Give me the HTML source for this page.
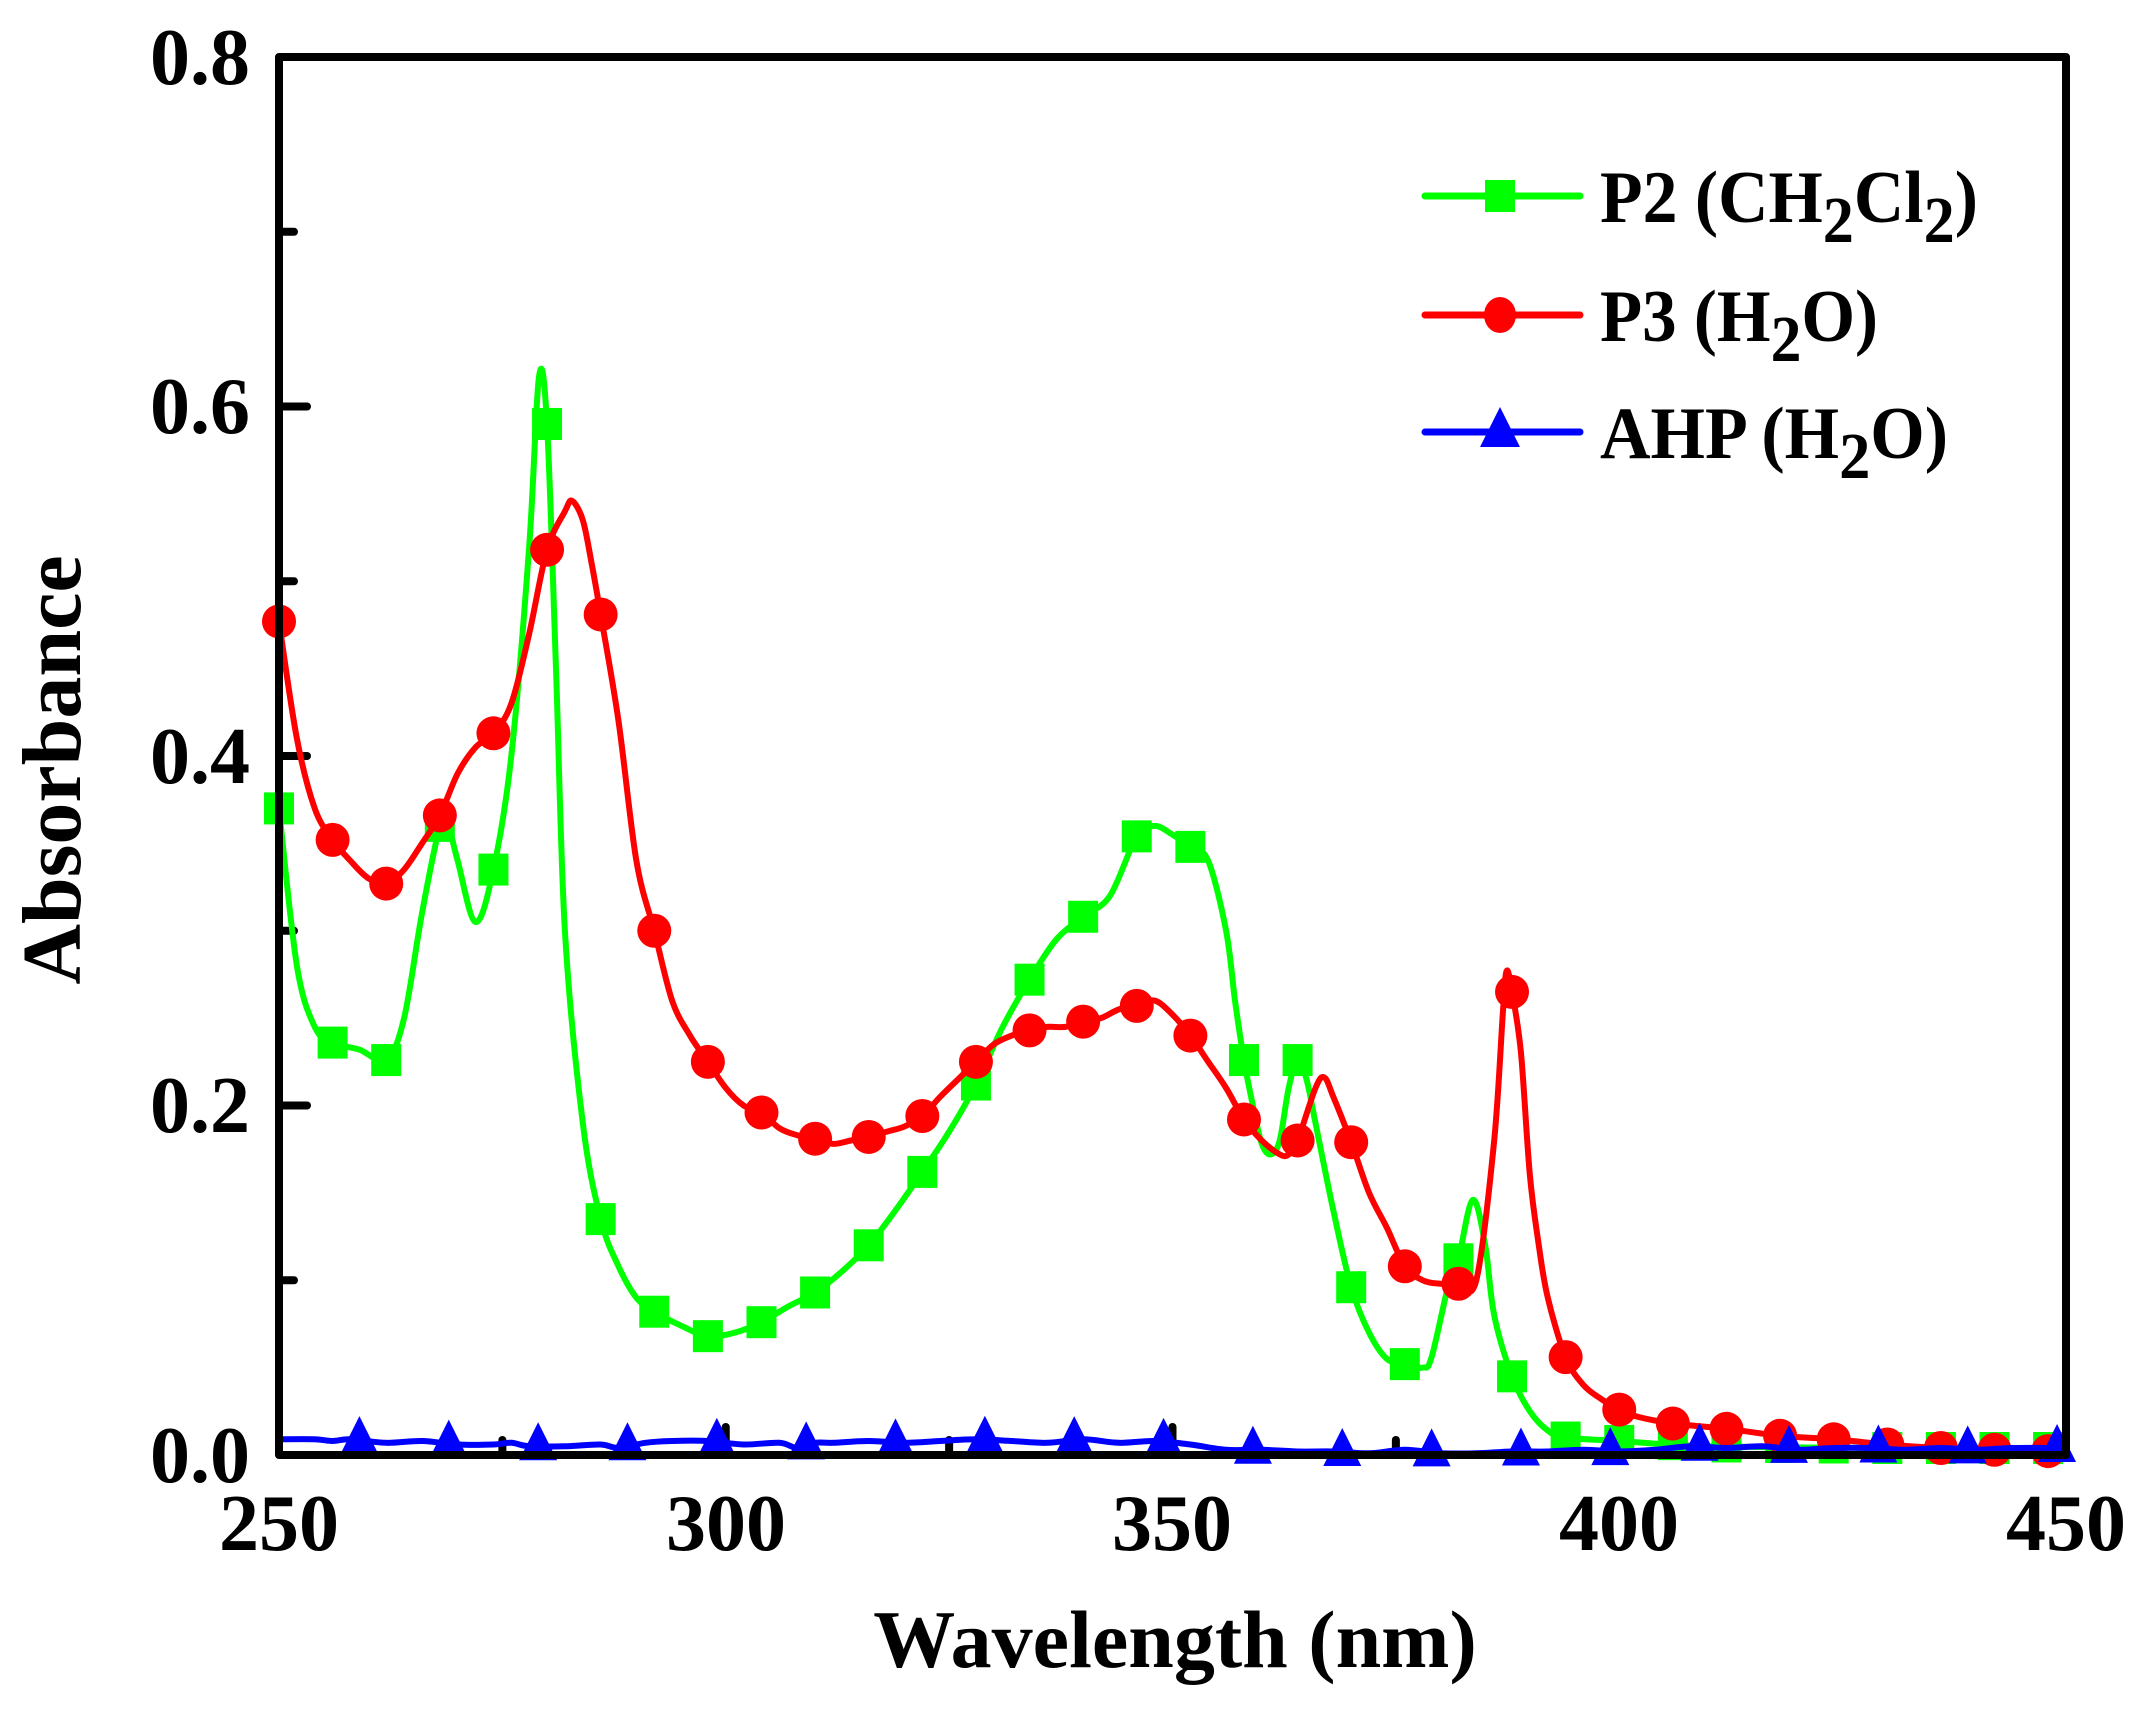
<!DOCTYPE html>
<html><head><meta charset="utf-8"><style>
html,body{margin:0;padding:0;background:#fff;}
svg{display:block;}
text{font-family:"Liberation Serif","Times New Roman",serif;font-weight:bold;fill:#000;}
</style></head><body>
<svg id="s" width="2155" height="1709" viewBox="0 0 2155 1709" xmlns="http://www.w3.org/2000/svg">
<rect width="2155" height="1709" fill="#fff"/>
<g id="ticks" stroke="#000" stroke-width="8" stroke-linecap="round"></g>
<g id="series"></g>
<rect x="279" y="57" width="1787" height="1398" fill="none" stroke="#000" stroke-width="8" stroke-linejoin="round"/>
<g font-size="80">
<text x="250" y="84" text-anchor="end">0.8</text>
<text x="250" y="433" text-anchor="end">0.6</text>
<text x="250" y="783" text-anchor="end">0.4</text>
<text x="250" y="1132" text-anchor="end">0.2</text>
<text x="250" y="1482" text-anchor="end">0.0</text>
<text x="279" y="1550" text-anchor="middle">250</text>
<text x="726" y="1550" text-anchor="middle">300</text>
<text x="1172" y="1550" text-anchor="middle">350</text>
<text x="1619" y="1550" text-anchor="middle">400</text>
<text x="2066" y="1550" text-anchor="middle">450</text>
</g>
<text x="1175" y="1667" font-size="82" text-anchor="middle">Wavelength (nm)</text>
<text transform="translate(80,770) rotate(-90)" font-size="84" text-anchor="middle">Absorbance</text>
<g id="legend">
<line x1="1425" y1="196" x2="1580" y2="196" stroke="#00ff00" stroke-width="7" stroke-linecap="round"/>
<rect x="1485" y="180" width="30" height="32" fill="#00ff00"/>
<line x1="1425" y1="315" x2="1580" y2="315" stroke="#ff0000" stroke-width="7" stroke-linecap="round"/>
<ellipse cx="1500" cy="315" rx="16" ry="18" fill="#ff0000"/>
<line x1="1425" y1="432" x2="1580" y2="432" stroke="#0000ff" stroke-width="7" stroke-linecap="round"/>
<polygon points="1500,407 1520,447 1480,447" fill="#0000ff"/>
<text x="1600" y="222" font-size="74" textLength="378" lengthAdjust="spacingAndGlyphs">P2 (CH<tspan font-size="66" dy="20">2</tspan><tspan dy="-20">Cl</tspan><tspan font-size="66" dy="20">2</tspan><tspan dy="-20">)</tspan></text>
<text x="1600" y="341" font-size="74" textLength="278" lengthAdjust="spacingAndGlyphs">P3 (H<tspan font-size="66" dy="20">2</tspan><tspan dy="-20">O)</tspan></text>
<text x="1600" y="458" font-size="74" textLength="348" lengthAdjust="spacingAndGlyphs">AHP (H<tspan font-size="66" dy="20">2</tspan><tspan dy="-20">O)</tspan></text>
</g>
</svg>
<script>
var L=279,R=2066,T=57,B=1455;
function X(n){return L+(n-250)*(R-L)/200;}
function Y(a){return B-a*(B-T)/0.8;}
var NS="http://www.w3.org/2000/svg";
var tk=document.getElementById('ticks');
function ln(x1,y1,x2,y2){var e=document.createElementNS(NS,'line');e.setAttribute('x1',x1);e.setAttribute('y1',y1);e.setAttribute('x2',x2);e.setAttribute('y2',y2);tk.appendChild(e);}
for(var i=1;i<8;i++){var y=Y(i*0.1);ln(L,y,L+(i%2==0?28:15),y);}
for(var n=275;n<450;n+=25){var x=X(n);ln(x,B,x,B-((n%50==0)?28:15));}
function interp(pts,x){for(var i=0;i<pts.length-1;i++){if(x>=pts[i][0]&&x<=pts[i+1][0]){var t=(x-pts[i][0])/(pts[i+1][0]-pts[i][0]);return pts[i][1]+t*(pts[i+1][1]-pts[i][1]);}}return pts[pts.length-1][1];}
function pathOf(pts){var p=pts.map(function(q){return [X(q[0]),Y(q[1])];});var d="M"+p[0][0].toFixed(1)+","+p[0][1].toFixed(1);
for(var i=0;i<p.length-1;i++){var p0=p[i-1]||p[i],p1=p[i],p2=p[i+1],p3=p[i+2]||p2;
var c1=[p1[0]+(p2[0]-p0[0])/6,p1[1]+(p2[1]-p0[1])/6],c2=[p2[0]-(p3[0]-p1[0])/6,p2[1]-(p3[1]-p1[1])/6];
d+="C"+c1[0].toFixed(1)+","+c1[1].toFixed(1)+" "+c2[0].toFixed(1)+","+c2[1].toFixed(1)+" "+p2[0].toFixed(1)+","+p2[1].toFixed(1);}return d;}
var green=[[250,0.37],[252,0.28],[254,0.245],[256,0.236],[259,0.232],[262,0.226],[264,0.25],[266,0.31],[268,0.36],[268.7,0.365],[270,0.34],[272,0.305],[274,0.335],[276,0.40],[278,0.52],[279.1,0.617],[280,0.59],[281,0.45],[282,0.30],[284,0.19],[286,0.135],[288,0.108],[290,0.09],[292,0.082],[295,0.074],[298,0.068],[301,0.07],[304,0.076],[307,0.085],[310,0.093],[313,0.105],[316,0.12],[319,0.14],[322,0.162],[325,0.185],[328,0.212],[331,0.245],[334,0.272],[337,0.295],[340,0.308],[343,0.32],[346,0.354],[348,0.36],[350,0.355],[352,0.348],[354,0.34],[356,0.3],[357,0.26],[358,0.226],[359,0.2],[360,0.178],[361,0.172],[362,0.18],[363,0.21],[364,0.226],[365,0.215],[366,0.19],[368,0.14],[370,0.096],[372,0.07],[374,0.055],[376,0.052],[378,0.05],[379,0.056],[381,0.10],[382,0.112],[383.6,0.146],[385,0.12],[386,0.08],[388,0.045],[390,0.025],[392,0.014],[394,0.01],[400,0.008],[410,0.005],[430,0.004],[450,0.004]];
var red=[[250,0.477],[252,0.41],[254,0.37],[256,0.352],[258,0.34],[260,0.33],[262,0.327],[264,0.335],[266,0.35],[268,0.366],[270,0.39],[272,0.405],[274,0.413],[276,0.43],[278,0.47],[280,0.518],[282,0.54],[282.8,0.546],[284,0.535],[285,0.51],[286,0.481],[288,0.42],[290,0.34],[292,0.3],[294,0.26],[296,0.24],[298,0.225],[300,0.21],[302,0.2],[304,0.196],[306,0.187],[308,0.183],[310,0.181],[312,0.178],[314,0.18],[316,0.182],[318,0.185],[320,0.188],[322,0.194],[324,0.205],[326,0.215],[328,0.225],[330,0.235],[332,0.24],[334,0.243],[336,0.245],[338,0.245],[340,0.248],[342,0.25],[344,0.255],[346,0.257],[348,0.26],[350,0.252],[352,0.24],[354,0.225],[356,0.21],[358,0.192],[360,0.18],[362,0.172],[363,0.172],[364,0.18],[366,0.21],[367,0.216],[368,0.205],[370,0.179],[372,0.15],[374,0.13],[376,0.108],[378,0.1],[380,0.098],[382,0.098],[384,0.1],[386,0.18],[387,0.255],[387.4,0.277],[388,0.265],[389,0.23],[390,0.16],[391,0.12],[392,0.09],[394,0.056],[396,0.04],[398,0.032],[400,0.026],[402,0.022],[406,0.018],[412,0.015],[418,0.011],[424,0.009],[430,0.006],[436,0.004],[442,0.003],[450,0.002]];
var blue=[[250,0.009],[254,0.009],[256,0.008],[258,0.009],[262,0.007],[266,0.008],[270,0.006],[274,0.006],[276,0.007],[278,0.005],[282,0.005],[286,0.006],[288,0.004],[291,0.007],[294,0.008],[298,0.008],[302,0.006],[306,0.007],[308,0.004],[310,0.007],[312,0.007],[316,0.008],[320,0.007],[324,0.008],[328,0.009],[332,0.008],[336,0.007],[340,0.009],[344,0.007],[348,0.008],[352,0.006],[356,0.003],[360,0.003],[364,0.002],[368,0.002],[372,0.001],[376,0.003],[380,0.001],[384,0.001],[388,0.002],[392,0.002],[396,0.003],[400,0.002],[404,0.003],[408,0.005],[412,0.004],[416,0.005],[420,0.003],[424,0.004],[428,0.004],[432,0.003],[436,0.004],[440,0.003],[444,0.004],[450,0.004]];
var g=document.getElementById('series');
function draw(pts,color,marker,start,step){
var p=document.createElementNS(NS,'path');p.setAttribute('d',pathOf(pts));p.setAttribute('fill','none');p.setAttribute('stroke',color);p.setAttribute('stroke-width','6');p.setAttribute('stroke-linejoin','round');g.appendChild(p);
for(var n=start;n<=450;n+=step){var x=X(n),y=Y(interp(pts,n)),e;
if(marker=='s'){e=document.createElementNS(NS,'rect');e.setAttribute('x',x-15);e.setAttribute('y',y-16);e.setAttribute('width',30);e.setAttribute('height',32);}
else if(marker=='c'){e=document.createElementNS(NS,'ellipse');e.setAttribute('cx',x);e.setAttribute('cy',y);e.setAttribute('rx',17);e.setAttribute('ry',17);}
else{e=document.createElementNS(NS,'polygon');e.setAttribute('points',x+','+(y-24)+' '+(x+19)+','+(y+14)+' '+(x-19)+','+(y+14));}
e.setAttribute('fill',color);g.appendChild(e);}
}
draw(green,'#00ff00','s',250,6);
draw(red,'#ff0000','c',250,6);
draw(blue,'#0000ff','t',259,10);
</script>
</body></html>
